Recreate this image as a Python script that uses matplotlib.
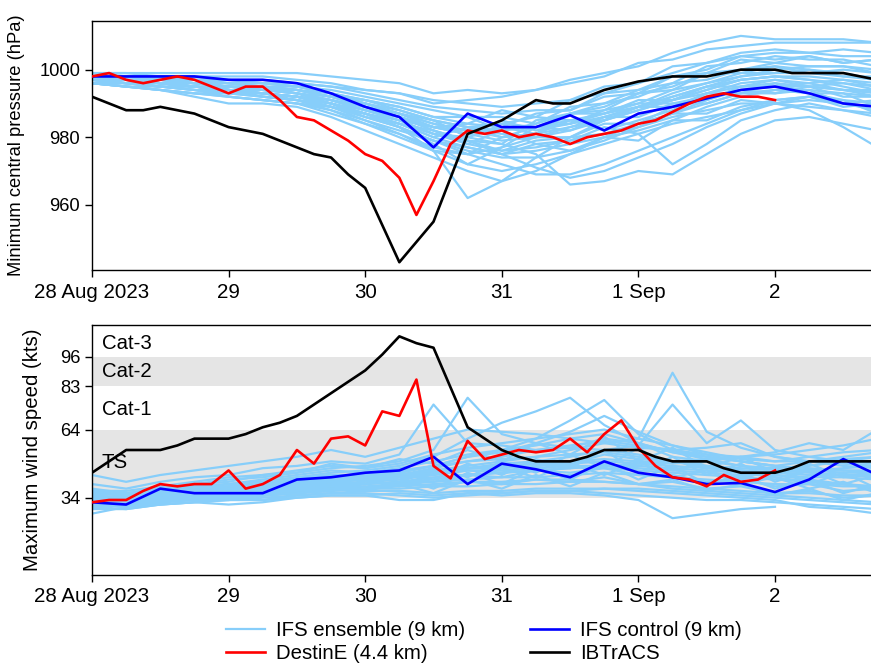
import matplotlib
matplotlib.use("Agg")
import matplotlib.pyplot as plt

plt.rcParams['font.family'] = ['Liberation Sans', 'DejaVu Sans']

# ---------------- data (days since 28 Aug 2023 00 UTC) ----------------
ens_days = [0, 0.25, 0.5, 0.75, 1.0, 1.25, 1.5, 1.75, 2.0, 2.25, 2.5, 2.75,
            3.0, 3.25, 3.5, 3.75, 4.0, 4.25, 4.5, 4.75, 5.0, 5.25, 5.5, 5.75]

ens_pressure = [
    [999, 999, 999, 999, 999, 999, 999, 998, 997, 996, 993, 994, 993, 994, 997, 999, 1001, 1005, 1008, 1010, 1009, 1009, 1009, 1008],
    [998, 998, 998, 998, 998, 998, 997, 996, 994, 993, 990, 991, 992, 994, 996, 998, 1002, 1003, 1006, 1007, 1008, 1008, 1008, 1008],
    [997, 997, 997, 996, 996, 995, 995, 993, 990, 987, 983, 984, 988, 986, 991, 995, 996, 1001, 1002, 1005, 1006, 1005, 1006, 1005],
    [998, 997, 996, 995, 994, 994, 993, 991, 988, 985, 981, 980, 983, 987, 988, 993, 994, 998, 1000, 1004, 1003, 1004, 1002, 1003],
    [996, 995, 994, 993, 992, 991, 990, 987, 984, 981, 977, 975, 980, 981, 987, 989, 993, 995, 999, 1000, 1002, 1001, 1001, 999],
    [997, 996, 996, 995, 994, 993, 992, 990, 986, 983, 978, 972, 977, 983, 984, 988, 990, 994, 996, 999, 999, 1000, 998, 998],
    [998, 997, 996, 995, 995, 994, 993, 990, 987, 983, 976, 962, 967, 974, 980, 985, 989, 993, 996, 998, 999, 999, 998, 997],
    [996, 995, 994, 992, 990, 990, 989, 986, 982, 978, 974, 970, 967, 970, 975, 980, 984, 989, 991, 995, 995, 996, 994, 994],
    [997, 996, 995, 994, 992, 991, 990, 988, 985, 982, 979, 977, 975, 971, 968, 970, 974, 978, 983, 987, 990, 991, 990, 988],
    [998, 997, 997, 996, 995, 994, 993, 991, 989, 986, 982, 979, 978, 975, 966, 967, 970, 969, 975, 981, 985, 986, 984, 982],
    [997, 997, 996, 996, 995, 995, 994, 992, 990, 988, 985, 983, 980, 983, 982, 986, 986, 990, 990, 993, 993, 995, 992, 992],
    [998, 998, 997, 997, 996, 996, 995, 994, 992, 990, 988, 986, 986, 984, 987, 987, 991, 991, 995, 995, 997, 996, 997, 995],
    [997, 996, 995, 994, 993, 992, 991, 989, 987, 984, 981, 979, 976, 979, 980, 984, 984, 987, 987, 991, 990, 992, 989, 990],
    [996, 996, 995, 994, 993, 993, 992, 990, 988, 986, 983, 981, 983, 981, 985, 985, 989, 989, 993, 993, 996, 993, 993, 989],
    [999, 998, 998, 997, 997, 996, 996, 995, 993, 991, 989, 988, 987, 988, 988, 992, 993, 998, 999, 1003, 1002, 1004, 1002, 1003],
    [998, 997, 996, 995, 994, 993, 992, 989, 985, 981, 976, 972, 970, 972, 975, 978, 981, 984, 986, 988, 990, 989, 988, 986],
    [997, 997, 996, 996, 995, 995, 994, 993, 991, 989, 986, 984, 983, 983, 984, 986, 989, 992, 995, 998, 1000, 1001, 1001, 1000],
    [998, 997, 997, 996, 996, 995, 994, 992, 989, 986, 983, 982, 984, 983, 987, 988, 993, 994, 999, 999, 1001, 1000, 999, 997],
    [996, 995, 994, 993, 992, 991, 990, 989, 987, 985, 983, 981, 979, 980, 980, 981, 983, 986, 988, 990, 990, 988, 983, 977],
    [997, 996, 996, 995, 995, 994, 993, 991, 988, 985, 981, 978, 976, 977, 979, 981, 984, 987, 990, 993, 994, 993, 991, 987],
    [998, 998, 997, 997, 996, 996, 995, 993, 990, 987, 984, 982, 981, 980, 982, 985, 988, 991, 994, 997, 998, 998, 997, 996],
    [997, 996, 995, 995, 994, 993, 992, 990, 987, 984, 980, 977, 975, 976, 978, 980, 982, 985, 989, 992, 994, 994, 993, 992],
    [999, 999, 998, 998, 997, 997, 996, 995, 994, 993, 991, 990, 989, 990, 991, 993, 996, 999, 1002, 1004, 1005, 1005, 1004, 1004],
    [996, 995, 994, 993, 993, 992, 991, 989, 986, 983, 979, 976, 974, 974, 976, 979, 983, 987, 991, 994, 995, 995, 994, 993],
    [997, 997, 996, 995, 994, 993, 992, 990, 987, 983, 979, 975, 972, 969, 969, 972, 976, 980, 984, 988, 991, 992, 991, 990],
    [998, 998, 998, 997, 997, 996, 995, 993, 991, 988, 985, 983, 982, 983, 985, 987, 989, 991, 993, 995, 996, 995, 994, 992],
    [997, 996, 996, 995, 994, 993, 992, 991, 989, 987, 984, 982, 980, 981, 983, 985, 988, 991, 994, 997, 998, 997, 995, 993],
    [998, 997, 996, 995, 994, 993, 991, 988, 984, 980, 976, 975, 977, 980, 983, 986, 989, 992, 995, 997, 998, 997, 996, 994],
    [997, 998, 997, 996, 995, 994, 994, 992, 989, 986, 982, 978, 982, 978, 979, 983, 981, 972, 978, 985, 988, 990, 988, 987],
    [996, 996, 995, 995, 994, 992, 991, 989, 986, 984, 980, 983, 984, 986, 985, 982, 985, 988, 993, 996, 997, 995, 996, 995],
    [998, 997, 997, 996, 995, 995, 993, 992, 990, 987, 985, 980, 978, 985, 987, 990, 992, 996, 997, 1000, 1001, 999, 1000, 999],
    [997, 997, 996, 995, 994, 993, 992, 991, 988, 986, 983, 981, 985, 982, 984, 987, 990, 990, 992, 994, 993, 994, 990, 991],
    [999, 998, 997, 997, 996, 995, 994, 992, 991, 989, 986, 986, 982, 984, 989, 990, 994, 996, 1001, 1002, 1004, 1003, 1003, 1001],
    [996, 995, 995, 994, 994, 992, 991, 990, 987, 984, 982, 979, 975, 978, 976, 980, 979, 985, 985, 989, 991, 992, 990, 989],
]

nan = float('nan')
ens_wind = [
    [44, 41, 44, 46, 48, 50, 52, 55, 52, 56, 60, 64, 63, 62, 60, 58, 56, 55, 53, 52, 50, 52, 54, 55],
    [40, 38, 41, 43, 44, 47, 48, 50, 49, 53, 75, 58, 57, 55, 56, 60, 58, 52, 50, 48, 47, 48, 50, 52],
    [38, 36, 38, 40, 42, 43, 45, 47, 48, 50, 55, 78, 62, 58, 56, 55, 53, 50, 48, 46, 45, 46, 47, 48],
    [36, 35, 37, 39, 40, 41, 43, 45, 46, 48, 52, 60, 67, 72, 78, 66, 58, 54, 52, 50, 48, 50, 52, 54],
    [35, 34, 36, 38, 39, 40, 42, 43, 44, 45, 48, 52, 55, 60, 68, 77, 62, 55, 52, 50, 48, 47, 46, 45],
    [34, 33, 35, 36, 37, 38, 40, 42, 43, 44, 46, 48, 50, 52, 55, 58, 60, 89, 63, 56, 52, 50, 49, 48],
    [33, 33, 34, 35, 36, 37, 39, 41, 42, 43, 45, 47, 49, 50, 52, 55, 57, 75, 58, 68, 55, 52, 50, 49],
    [32, 33, 34, 36, 35, 38, 38, 41, 40, 43, 44, 46, 45, 48, 49, 53, 51, 50, 47, 46, 44, 42, 40, 38],
    [31, 31, 33, 34, 35, 36, 37, 38, 40, 41, 42, 44, 45, 46, 47, 48, 48, 47, 46, 45, 43, 41, 40, 38],
    [30, 31, 32, 34, 33, 35, 36, 38, 38, 41, 41, 44, 43, 46, 45, 47, 44, 44, 41, 42, 39, 40, 37, 38],
    [33, 32, 34, 35, 36, 37, 38, 39, 40, 41, 43, 44, 45, 46, 47, 48, 49, 50, 51, 52, 53, 55, 57, 60],
    [34, 34, 35, 36, 37, 38, 40, 41, 42, 44, 45, 47, 48, 49, 50, 51, 50, 49, 50, 52, 54, 58, 55, 64],
    [35, 33, 35, 37, 38, 39, 41, 42, 43, 44, 46, 47, 48, 49, 48, 47, 46, 45, 44, 43, 42, 41, 40, 39],
    [31, 30, 32, 33, 34, 35, 36, 37, 38, 39, 40, 41, 41, 42, 42, 41, 40, 38, 37, 36, 35, 34, 33, 32],
    [29, 29, 31, 32, 31, 32, 34, 35, 35, 33, 33, 36, 35, 36, 36, 35, 33, 25, 27, 29, 30, nan, nan, nan],
    [32, 31, 33, 35, 34, 36, 37, 39, 38, 40, 39, 41, 40, 42, 41, 43, 40, 41, 38, 39, 36, 37, 34, 35],
    [30, 29, 31, 32, 33, 34, 35, 36, 36, 35, 34, 35, 36, 37, 37, 36, 35, 34, 33, 33, 32, 31, 30, 29],
    [27, 30, 32, 33, 33, 33, 35, 36, 37, 37, 36, 37, 37, 38, 38, 38, 37, 36, 35, 34, 33, 30, 29, 27],
    [36, 36, 38, 39, 40, 42, 44, 46, 45, 47, 50, 53, 55, 57, 60, 62, 58, 54, 51, 48, 46, 45, 44, 44],
    [37, 37, 39, 41, 43, 44, 46, 48, 47, 49, 53, 56, 58, 60, 62, 64, 60, 57, 54, 51, 50, 50, 51, 52],
    [34, 33, 35, 36, 38, 39, 41, 43, 43, 44, 47, 50, 52, 55, 57, 59, 57, 55, 56, 58, 52, 50, 48, 47],
    [33, 32, 34, 35, 36, 37, 39, 40, 41, 42, 44, 46, 46, 47, 48, 48, 47, 46, 45, 44, 44, 43, 43, 42],
    [35, 34, 36, 37, 38, 39, 41, 42, 43, 44, 46, 47, 47, 48, 49, 50, 49, 48, 47, 46, 45, 44, 44, 43],
    [32, 31, 33, 34, 35, 36, 37, 38, 39, 40, 41, 42, 43, 43, 44, 45, 44, 43, 42, 41, 40, 40, 39, 39],
    [31, 30, 31, 32, 33, 33, 34, 35, 35, 36, 35, 36, 36, 37, 37, 38, 38, 37, 36, 35, 34, 33, 32, 31],
    [33, 31, 33, 34, 34, 35, 36, 37, 38, 38, 39, 39, 40, 40, 41, 41, 40, 39, 38, 37, 36, 36, 35, 35],
    [36, 35, 37, 38, 40, 41, 43, 44, 44, 46, 48, 50, 51, 52, 53, 54, 52, 50, 48, 47, 46, 46, 46, 46],
    [34, 34, 36, 37, 39, 40, 42, 44, 44, 45, 48, 52, 54, 58, 63, 70, 63, 57, 53, 50, 48, 46, 45, 45],
    [33, 35, 34, 37, 36, 39, 38, 42, 40, 45, 42, 49, 44, 51, 47, 55, 45, 52, 44, 49, 41, 46, 40, 44],
    [35, 32, 36, 35, 38, 37, 41, 39, 44, 41, 47, 43, 50, 45, 53, 47, 56, 46, 50, 42, 47, 40, 45, 38],
    [31, 33, 33, 35, 35, 37, 37, 40, 40, 43, 38, 45, 40, 47, 42, 49, 42, 48, 40, 44, 38, 42, 36, 40],
    [37, 35, 38, 40, 41, 44, 45, 49, 47, 51, 49, 55, 50, 58, 53, 61, 50, 56, 47, 52, 45, 49, 43, 46],
    [32, 30, 35, 33, 37, 35, 40, 37, 42, 39, 45, 41, 47, 43, 49, 44, 50, 43, 46, 40, 43, 38, 41, 36],
    [30, 32, 32, 34, 34, 36, 36, 38, 37, 40, 36, 42, 38, 44, 39, 45, 40, 42, 37, 40, 35, 38, 33, 36],
]

ctrl_days = [0, 0.25, 0.5, 0.75, 1.0, 1.25, 1.5, 1.75, 2.0, 2.25, 2.5, 2.75,
             3.0, 3.25, 3.5, 3.75, 4.0, 4.25, 4.5, 4.75, 5.0, 5.25, 5.5, 5.75]
ctrl_pressure = [998, 998, 998, 998, 997, 997, 996, 993, 989, 986, 977, 987,
                 983, 983, 986.5, 982, 987, 989, 991.5, 994, 995, 993, 990, 989]
ctrl_wind = [32, 31, 38, 36, 36, 36, 42, 43, 45, 46, 52, 40,
             49, 46.5, 43, 50, 45, 43, 40, 40.5, 36.5, 42, 51, 44]

destine_days = [0, 0.125, 0.25, 0.375, 0.5, 0.625, 0.75, 0.875, 1.0, 1.125, 1.25, 1.375,
                1.5, 1.625, 1.75, 1.875, 2.0, 2.125, 2.25, 2.375, 2.5, 2.625, 2.75, 2.875,
                3.0, 3.125, 3.25, 3.375, 3.5, 3.625, 3.75, 3.875, 4.0, 4.125, 4.25, 4.375,
                4.5, 4.625, 4.75, 4.875, 5.0]
destine_pressure = [998, 999, 997, 996, 997, 998, 997, 995, 993, 995, 995, 991,
                    986, 985, 982, 979, 975, 973, 968, 957, 967, 978, 982, 981,
                    982, 980, 981, 980, 978, 980, 981, 982, 984, 985, 987.5, 990,
                    992, 993, 992, 992, 991]
destine_wind = [32, 33, 33, 37, 40, 39, 40, 40, 46, 38, 40, 44,
                55, 49, 60, 61, 57, 72, 70, 86, 48, 42.5, 59, 51,
                53, 55, 54, 55, 60, 54, 62, 68, 56, 48, 43, 42,
                39, 44, 41, 42, 46]

ib_p_days = [0, 0.25, 0.375, 0.5, 0.625, 0.75, 1.0, 1.125, 1.25, 1.375, 1.5, 1.625,
             1.75, 1.875, 2.0, 2.125, 2.25, 2.375, 2.5, 2.75, 3.0, 3.25, 3.375, 3.5,
             3.75, 4.0, 4.25, 4.5, 4.75, 5.0, 5.125, 5.5, 5.75]
ib_pressure = [992, 988, 988, 989, 988, 987, 983, 982, 981, 979, 977, 975,
               974, 969, 965, 954, 943, 949, 955, 981, 985, 991, 990, 990,
               994, 996.5, 998, 998, 1000, 1000, 999, 999, 997]
ib_w_days = [0, 0.25, 0.5, 0.625, 0.75, 1.0, 1.125, 1.25, 1.375, 1.5, 1.625, 1.75,
             1.875, 2.0, 2.125, 2.25, 2.375, 2.5, 2.75, 2.875, 3.0, 3.125, 3.25, 3.5,
             3.625, 3.75, 4.0, 4.125, 4.25, 4.5, 4.625, 4.75, 5.0, 5.125, 5.25, 5.75]
ib_wind = [45, 55, 55, 57, 60, 60, 62, 65, 67, 70, 75, 80,
           85, 90, 97, 105, 102, 100, 65, 60, 55, 52, 50, 50,
           52, 55, 55, 52, 50, 50, 47, 45, 45, 47, 50, 50]

tick_days = [0, 1, 2, 3, 4, 5]
tick_labels = ['28 Aug 2023', '29', '30', '31', '1 Sep', '2']

cat_bounds = [34, 64, 83, 96]
cat_labels = ['TS', 'Cat-1', 'Cat-2', 'Cat-3']
cat_label_y = [49.5, 73, 89.5, 102]

# ---------------- figure ----------------
W, H = 871, 666
fig = plt.figure(figsize=(W / 100, H / 100), dpi=100)
left = 92 / W
width = (871 - 92) / W
ax1 = fig.add_axes([left, 1 - 270 / H, width, (270 - 20.7) / H])
ax2 = fig.add_axes([left, 1 - 575 / H, width, (575 - 325) / H])

ens_col = '#87cefa'
lw_ens = 1.6
lw_main = 1.9

for m in ens_pressure:
    ax1.plot(ens_days, m, color=ens_col, lw=lw_ens, zorder=2)
ax1.plot(ctrl_days, ctrl_pressure, color='#0000ff', lw=lw_main, zorder=3)
ax1.plot(destine_days, destine_pressure, color='#ff0000', lw=lw_main, zorder=4)
ax1.plot(ib_p_days, ib_pressure, color='black', lw=lw_main, zorder=5)

for m in ens_wind:
    ax2.plot(ens_days, m, color=ens_col, lw=lw_ens, zorder=2)
l_ctrl, = ax2.plot(ctrl_days, ctrl_wind, color='#0000ff', lw=lw_main, zorder=3)
l_dest, = ax2.plot(destine_days, destine_wind, color='#ff0000', lw=lw_main, zorder=4)
l_ib, = ax2.plot(ib_w_days, ib_wind, color='black', lw=lw_main, zorder=5)
l_ens, = ax2.plot([], [], color=ens_col, lw=lw_ens)

band = '#e5e5e5'
ax2.axhspan(cat_bounds[0], cat_bounds[1], color=band, lw=0, zorder=0)
ax2.axhspan(cat_bounds[2], cat_bounds[3], color=band, lw=0, zorder=0)
for lab, yy in zip(cat_labels, cat_label_y):
    ax2.text(0.07, yy, lab, fontsize=14.7, va='center', ha='left', zorder=1.5)

xmax = (871 - 92) / 136.6
for ax in (ax1, ax2):
    ax.set_xlim(0, xmax)
    ax.set_xticks(tick_days)
    ax.set_xticklabels(tick_labels, fontsize=14.8)
    ax.spines['right'].set_visible(False)
    for s in ('left', 'top', 'bottom'):
        ax.spines[s].set_linewidth(1.0)
    ax.tick_params(axis='both', direction='out', length=5, width=1.0)
    ax.tick_params(axis='y', labelsize=13.2)
    ax.tick_params(axis='x', pad=4)

ax1.set_ylim(940.7, 1014.5)
ax1.set_yticks([960, 980, 1000])
ax1.set_ylabel('Minimum central pressure (hPa)', fontsize=13.2)
ax1.yaxis.set_label_coords(-0.086, 0.5)

ax2.set_ylim(0, 110)
ax2.set_yticks(cat_bounds)
ax2.set_ylabel('Maximum wind speed (kts)', fontsize=14.7)
ax2.yaxis.set_label_coords(-0.064, 0.5)

fig.legend([l_ens, l_dest, l_ctrl, l_ib],
           ['IFS ensemble (9 km)', 'DestinE (4.4 km)', 'IFS control (9 km)', 'IBTrACS'],
           ncol=2, loc='center', bbox_to_anchor=(484 / W, 1 - 642 / H),
           frameon=False, fontsize=14.7, handlelength=1.9, handletextpad=0.55,
           columnspacing=3.2, labelspacing=0.2)

fig.savefig('out.png', dpi=100)
